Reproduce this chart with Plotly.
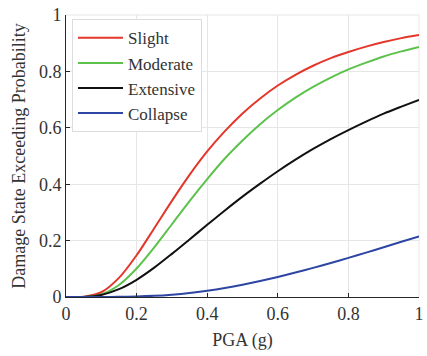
import plotly.graph_objects as go

pga = [0.0, 0.05, 0.10, 0.15, 0.20, 0.25, 0.30, 0.35, 0.40, 0.45, 0.50,
       0.55, 0.60, 0.65, 0.70, 0.75, 0.80, 0.85, 0.90, 0.95, 1.00]

slight = [0.0, 0.0007, 0.0168, 0.0677, 0.148, 0.244, 0.341, 0.433, 0.516, 0.588, 0.651,
          0.704, 0.750, 0.788, 0.820, 0.847, 0.869, 0.888, 0.904, 0.918, 0.929]
moderate = [0.0, 0.0003, 0.0094, 0.0425, 0.101, 0.176, 0.258, 0.340, 0.418, 0.491, 0.555,
            0.613, 0.663, 0.707, 0.745, 0.778, 0.807, 0.831, 0.853, 0.871, 0.887]
extensive = [0.0, 0.0004, 0.0074, 0.0277, 0.061, 0.104, 0.153, 0.204, 0.256, 0.307, 0.356,
             0.402, 0.446, 0.487, 0.525, 0.560, 0.592, 0.622, 0.650, 0.675, 0.699]
collapse = [0.0, 0.0, 0.0001, 0.0005, 0.0017, 0.0042, 0.0084, 0.0144, 0.0224, 0.0321, 0.0435,
            0.0566, 0.0710, 0.0866, 0.1032, 0.1207, 0.1388, 0.1574, 0.1764, 0.1957, 0.2151]

names = ["Slight", "Moderate", "Extensive", "Collapse"]
colors = ["#E2372A", "#5CC24B", "#111111", "#2D45A3"]
tick_vals = [0, 0.2, 0.4, 0.6, 0.8, 1]
tick_text = ["0", "0.2", "0.4", "0.6", "0.8", "1"]

fig = go.Figure()
for name, ys, c in zip(names, [slight, moderate, extensive, collapse], colors):
    fig.add_trace(go.Scatter(x=pga, y=ys, mode="lines", name=name,
                             line=dict(color=c, width=2, shape="spline", smoothing=0.8)))

font = "Liberation Serif"
axis_common = dict(range=[0, 1.00001], tickvals=tick_vals, ticktext=tick_text,
                   showgrid=True, gridcolor="#e6e6e6", gridwidth=1,
                   showline=True, linecolor="#262626", linewidth=1,
                   ticks="inside", ticklen=4, tickcolor="#262626",
                   zeroline=False, automargin=False,
                   tickfont=dict(size=18, color="#333333", family=font))

fig.update_layout(
    width=427, height=356,
    margin=dict(l=66, r=8, t=15, b=59),
    paper_bgcolor="white", plot_bgcolor="white",
    font=dict(family=font, color="#333333"),
    xaxis=dict(**axis_common, title=dict(text="PGA (g)", font=dict(size=18, family=font), standoff=10)),
    yaxis=dict(**axis_common, title=dict(text="Damage State Exceeding Probability", font=dict(size=18, family=font), standoff=8)),
    legend=dict(x=0.017, y=0.985, xanchor="left", yanchor="top",
                bgcolor="white", bordercolor="#dcdcdc", borderwidth=1,
                itemwidth=45,
                font=dict(size=17, family=font, color="#333333"), tracegroupgap=0),
    showlegend=True,
)

# light grey frame lines at x=1 and y=1 (grid lines on the plot edges)
fig.add_shape(type="line", xref="paper", yref="paper", x0=1, x1=1, y0=0, y1=1,
              line=dict(color="#e6e6e6", width=1), layer="below")
fig.add_shape(type="line", xref="paper", yref="paper", x0=0, x1=1, y0=1, y1=1,
              line=dict(color="#e6e6e6", width=1), layer="below")

fig.write_html("out.html", config={"displayModeBar": False},
               post_script="document.body.style.margin='0px';document.body.style.overflow='hidden';")
